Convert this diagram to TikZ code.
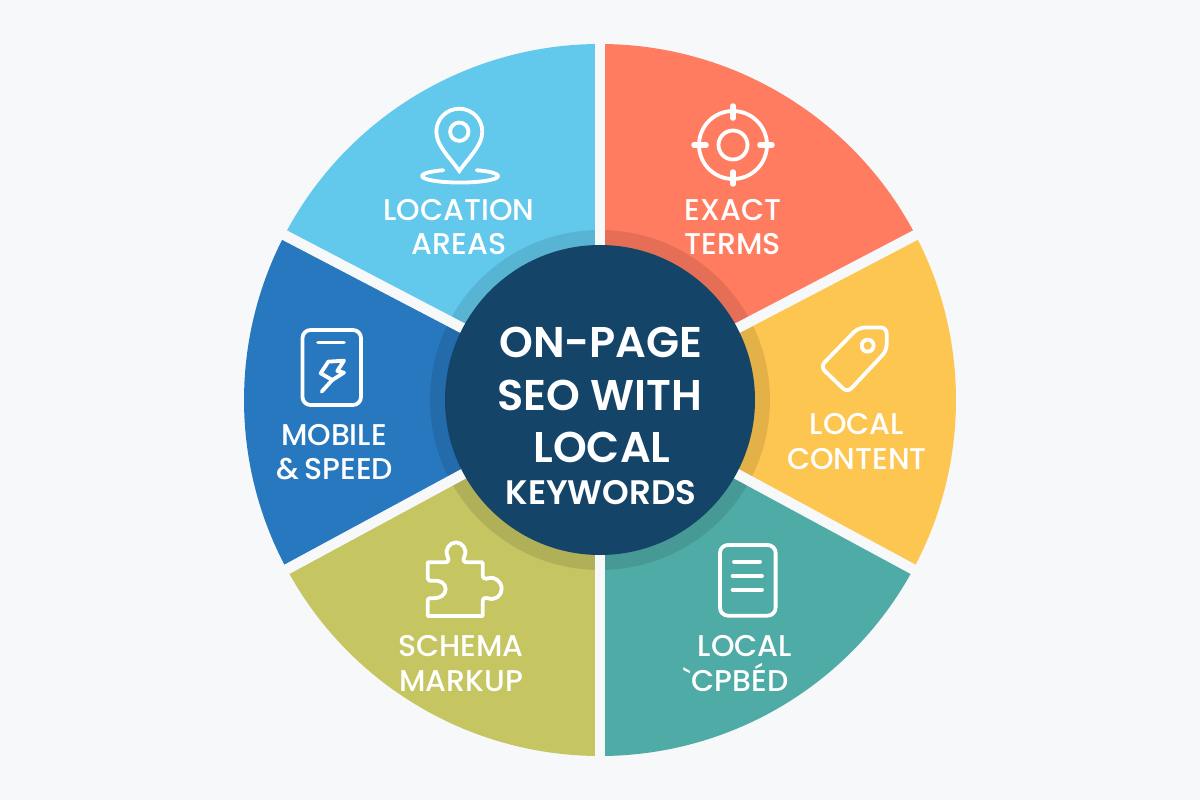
\documentclass[tikz,border=0pt]{standalone}
\usepackage{fontspec}
\setmainfont{Poppins}[UprightFont=* Medium,BoldFont=* SemiBold]
\newfontface\plainf{Poppins Medium}
\definecolor{bgc}{HTML}{F7F8FA}
\definecolor{skyc}{HTML}{62C9EC}
\definecolor{orac}{HTML}{FF7C60}
\definecolor{yelc}{HTML}{FDC650}
\definecolor{teac}{HTML}{4FABA5}
\definecolor{olic}{HTML}{C5C562}
\definecolor{bluc}{HTML}{2878BF}
\definecolor{navc}{HTML}{144467}
\tikzset{
  icon/.style={draw=white,line width=3.8pt,line cap=round,line join=round},
  gapline/.style={draw=bgc,line width=10.5pt},
  lbl/.style={text=white,anchor=base,inner sep=0pt,font=\fontsize{30}{30}\selectfont},
  ttl/.style={text=white,anchor=base,inner sep=0pt,font=\bfseries\fontsize{43}{43}\selectfont},
}
\newcommand{\sector}[3]{\fill[#1] (600,400) -- ++(#2:356pt) arc[start angle=#2,end angle=#3,radius=356pt] -- cycle;}
\begin{document}
\begin{tikzpicture}[x=1pt,y=-1pt]
\useasboundingbox (0,0) rectangle (1200,800);
\fill[bgc] (0,0) rectangle (1200,800);
\sector{orac}{27.6}{90}
\sector{skyc}{90}{152.4}
\sector{bluc}{152.4}{208.4}
\sector{olic}{208.4}{270}
\sector{teac}{270}{331.6}
\sector{yelc}{331.6}{387.6}
\fill[black,opacity=.1] (600,400) circle[radius=170pt];
\coordinate (c) at (600,400);
\foreach \a in {27.6,90,152.4,208.4,270,331.6}{\draw[gapline] (c) -- ++(\a:370pt);}
\node[circle,fill=navc,minimum size=310pt,inner sep=0pt] (hub) at (c) {};
% titles
\node[ttl] (t1) at (601,357) {ON-PAGE};
\node[ttl] (t2) at (600,410) {SEO WITH};
\node[ttl] (t3) at (602,462) {LOCAL};
\node[ttl,font=\bfseries\fontsize{34}{34}\selectfont] (t4) at (601,504) {KEYWORDS};
% labels
\node[lbl] (a1) at (733,220) {EXACT};
\node[lbl] (a2) at (733,254) {TERMS};
\node[lbl] (b1) at (459,220) {LOCATION};
\node[lbl] (b2) at (459,254) {AREAS};
\node[lbl] (c1) at (334,445) {MOBILE};
\node[lbl] (c2) at (335,479) {\&\,SPEED};
\node[lbl] (d1) at (857,434) {LOCAL};
\node[lbl] (d2) at (857,469) {CONTENT};
\node[lbl] (e1) at (461,656) {SCHEMA};
\node[lbl] (e2) at (461,691) {MARKUP};
\node[lbl] (f1) at (745,656) {LOCAL};
\node[lbl] (f2) at (736,691) {{\plainf\symbol{96}}CPBÉD};
% target
\draw[icon] (733,145) circle[radius=34pt];
\draw[icon] (733,145) circle[radius=14.5pt];
\draw[icon,line width=5.5pt] (733,106) -- (733,118) (733,172) -- (733,184) (694,145) -- (706,145) (760,145) -- (772,145);
% pin
\draw[icon,line join=miter] (459.3,171) .. controls (452,160) and (436.3,146) .. (436.3,131.7) arc[start angle=180,end angle=0,radius=23pt] .. controls (482.3,146) and (466.6,160) .. (459.3,171) -- cycle;
\draw[icon] (459.3,131.7) circle[radius=9.2pt];
\draw[icon] (476.7,170.2) arc[start angle=64,end angle=-244,x radius=38pt,y radius=6.5pt];
% phone
\draw[icon,rounded corners=8pt] (302.5,330) rectangle (361,405);
\draw[icon] (318,342.5) -- (344,342.5);
\begin{scope}[shift={(250,310)},x=.3333pt,y=-.3333pt]
\draw[icon] (215,245) -- (247,210) -- (212,190) -- (235,155) -- (282,152) -- (262,183) -- (282,188) -- (247,210);
\end{scope}
% tag
\begin{scope}[shift={(740,310)},x=.3333pt,y=-.3333pt]
\draw[icon,rounded corners=6pt] (355,53) -- (440,52) -- (440,122) -- (322,248) -- (241,170) -- cycle;
\draw[icon] (383,107) circle[radius=6pt];
\end{scope}
% puzzle
\begin{scope}[shift={(380,510)},x=.3333pt,y=-.3333pt]
\draw[icon] (143,157) -- (195,157) .. controls (205,157) and (208,150) .. (203,140) .. controls (192,118) and (210,97) .. (228,97) .. controls (246,97) and (264,118) .. (253,140) .. controls (248,150) and (250,157) .. (262,157) -- (308,157) -- (308,195) .. controls (308,205) and (315,208) .. (325,205) .. controls (345,198) and (365,215) .. (365,237) .. controls (365,258) and (345,272) .. (325,265) .. controls (315,262) and (308,265) .. (308,275) -- (308,318) -- (143,318) -- (143,270) .. controls (143,263) and (150,265) .. (160,265) .. controls (180,265) and (197,255) .. (197,237) .. controls (197,220) and (180,210) .. (160,212) .. controls (150,213) and (143,212) .. (143,205) -- cycle;
% document
\draw[icon,rounded corners=8pt] (1020,105) rectangle (1187,317);
\draw[icon] (1062,155) -- (1140,155) (1058,198) -- (1146,198) (1058,239) -- (1146,239);
\end{scope}
\end{tikzpicture}
\end{document}
